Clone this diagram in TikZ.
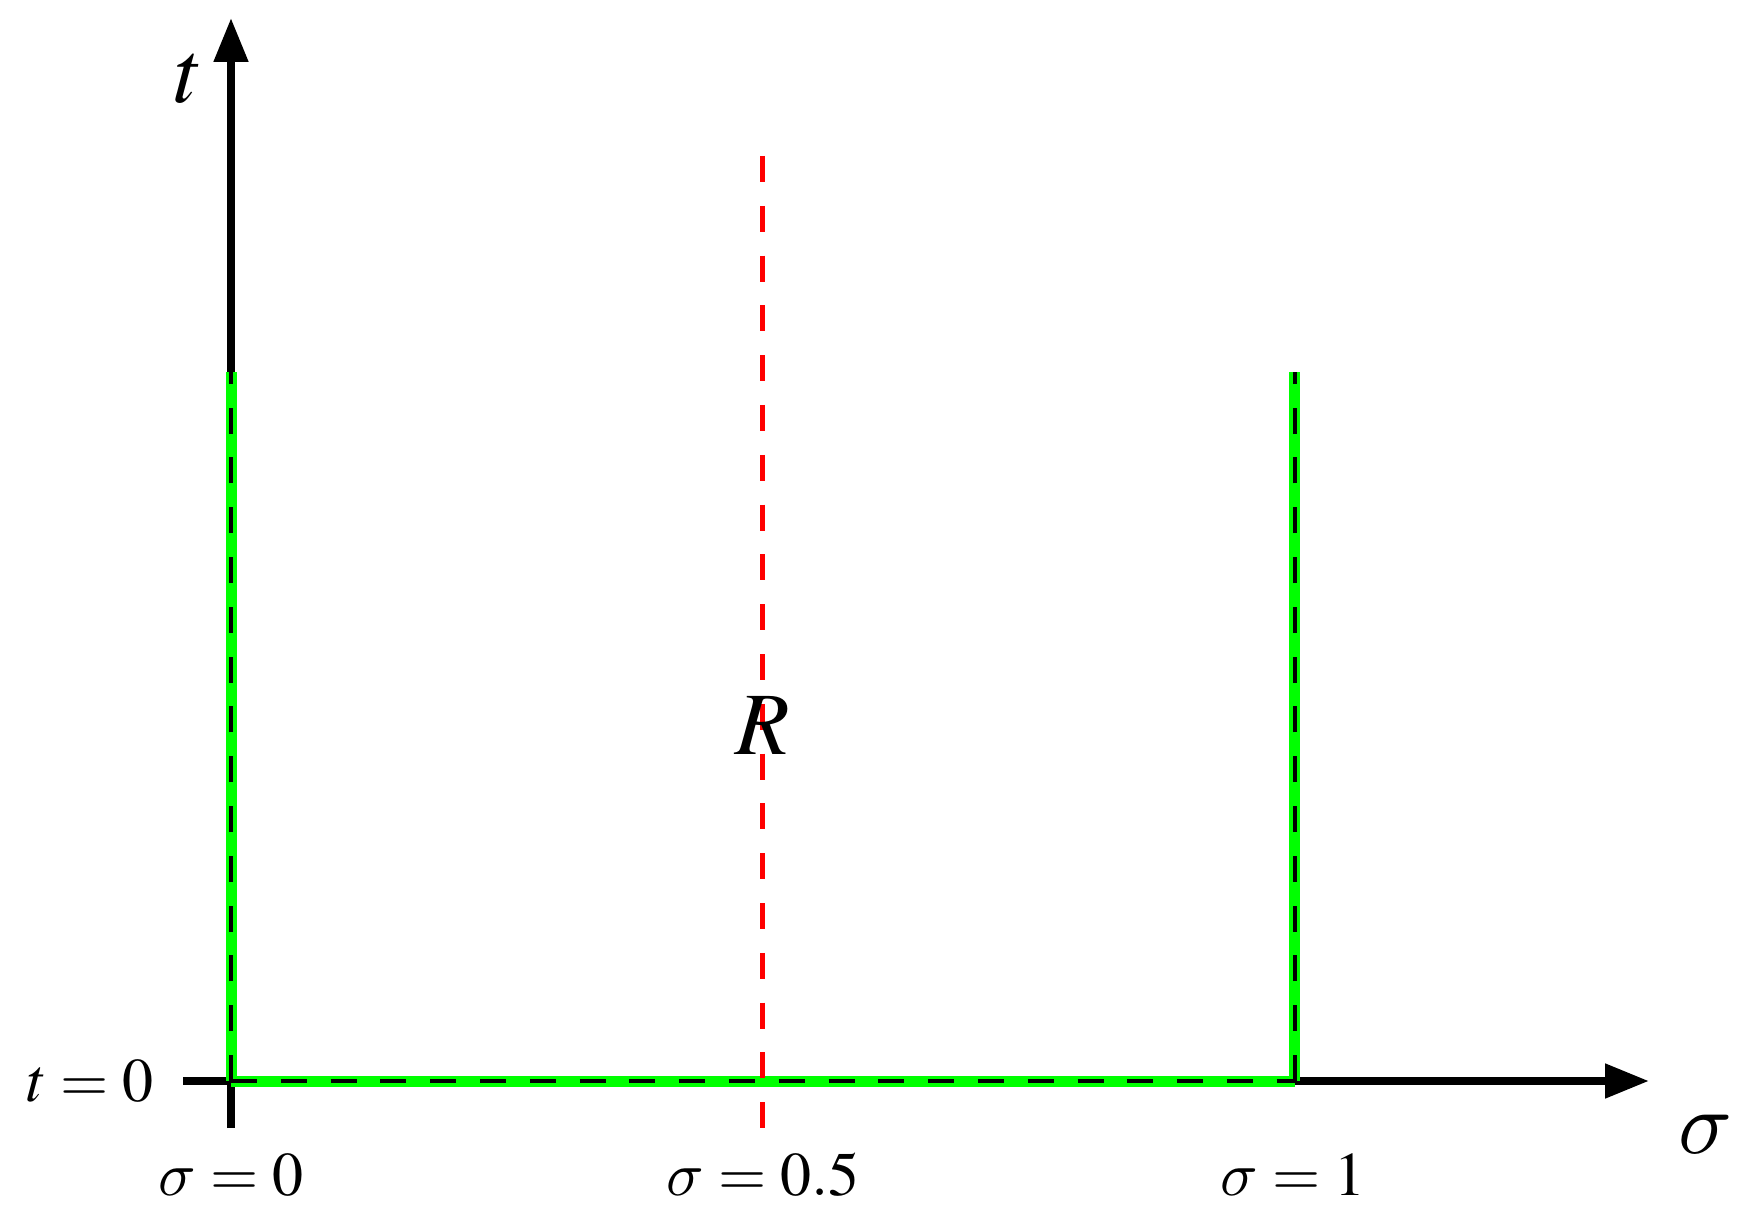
\documentclass[tikz,border=0pt]{standalone}
\usepackage{mathptmx}
\DeclareFontFamily{OML}{mycmm}{\skewchar\font127}
\DeclareFontShape{OML}{mycmm}{m}{it}{<->cmmi10}{}
\DeclareSymbolFont{cmletters}{OML}{mycmm}{m}{it}
\DeclareMathSymbol{\cmsigma}{\mathord}{cmletters}{"1B}
\usetikzlibrary{arrows.meta}
\definecolor{brightgreen}{RGB}{0,255,0}
\definecolor{pureRed}{RGB}{255,0,0}
\begin{document}
\begin{tikzpicture}[x=0.5pt,y=-0.5pt,
  axisline/.style={line width=4pt,black},
  greenline/.style={line width=5.5pt,brightgreen},
  blackdash/.style={line width=2pt,black,dash pattern=on 13pt off 11.9pt},
  reddash/.style={line width=2.5pt,pureRed,dash pattern=on 13pt off 11.9pt},
  biglabel/.style={inner sep=0pt,anchor=base,font=\fontsize{44.5}{50}\selectfont},
  smalllabel/.style={inner sep=0pt,anchor=base,font=\fontsize{31}{36}\selectfont}]
\useasboundingbox (0,0) rectangle (1749,1229);
% key points
\coordinate (ybot) at (231,1128);
\coordinate (ytip) at (231,18);
\coordinate (xleft) at (183,1081);
\coordinate (xtip) at (1649,1081);
\coordinate (O) at (231,1081);
\coordinate (A) at (1294.5,1081);
\coordinate (Otop) at (231,372);
\coordinate (Atop) at (1294.5,372);
\coordinate (rtop) at (762.5,156);
\coordinate (rbot) at (762.5,1128);
% axes
\draw[axisline,-{Triangle[length=22pt,width=16.5pt]}] (ybot) -- (ytip);
\draw[axisline,-{Triangle[length=22pt,width=16.5pt]}] (xleft) -- (xtip);
% green boundary
\draw[greenline] (O) -- (Otop);
\draw[greenline] (A) -- (Atop);
\draw[greenline] (O) -- (A);
% black dashed on top
\draw[blackdash] (O) -- (Otop);
\draw[blackdash] (A) -- (Atop);
\draw[blackdash] (O) -- (A);
% red dashed
\draw[reddash] (rtop) -- (rbot);
% labels
\node[biglabel] (tlab) at (189,103) {$t$};
\node[biglabel] (slab) at (1705,1153) {$\cmsigma$};
\node[biglabel] (Rlab) at (763,754) {$R$};
\node[smalllabel] (t0) at (90,1101) {$t=0$};
\node[smalllabel] (s0) at (231,1195) {$\cmsigma=0$};
\node[smalllabel] (s05) at (763,1195) {$\cmsigma=0.5$};
\node[smalllabel] (s1) at (1293,1195) {$\cmsigma=1$};
\end{tikzpicture}
\end{document}
